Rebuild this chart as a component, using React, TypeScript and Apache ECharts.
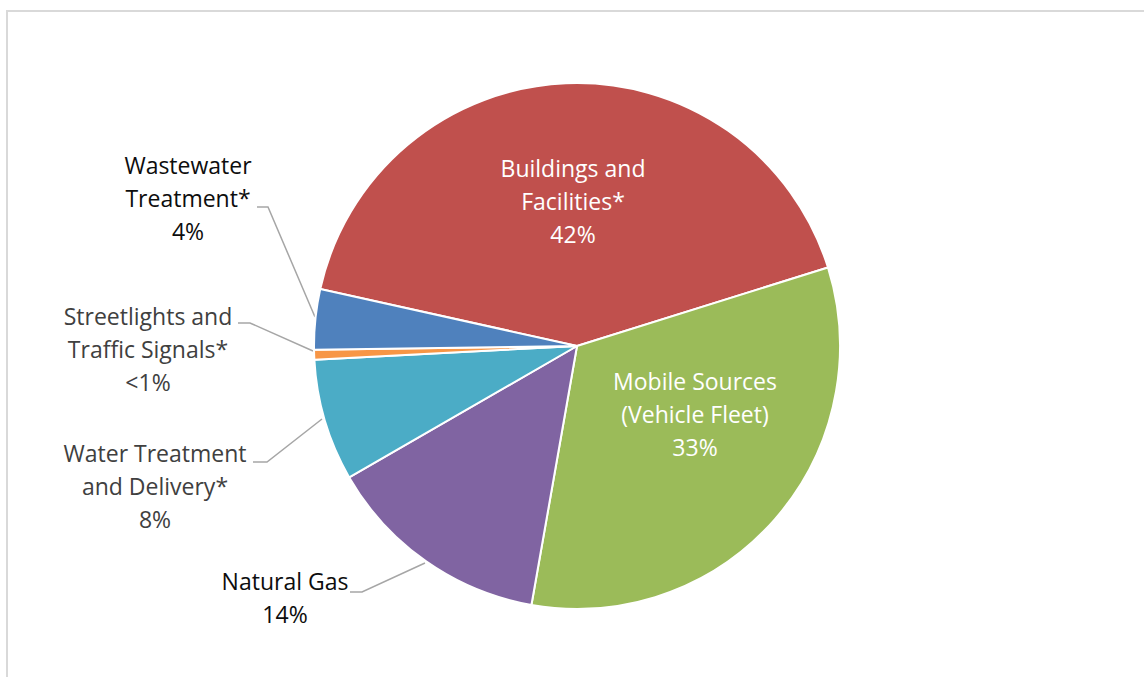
import React, { useEffect, useRef } from "react";
import * as echarts from "echarts";

const categories = [
  "Buildings and\nFacilities*",
  "Mobile Sources\n(Vehicle Fleet)",
  "Natural Gas",
  "Water Treatment\nand Delivery*",
  "Streetlights and\nTraffic Signals*",
  "Wastewater\nTreatment*",
];
const values = [41.7, 32.6, 13.9, 7.5, 0.6, 3.7];
const colors = ["#C0504D", "#9BBB59", "#8064A2", "#4BACC6", "#F79646", "#4F81BD"];
const labelColors = ["#FFFFFF", "#FFFFFF", "#0D0D0D", "#404040", "#404040", "#0D0D0D"];

// label layout (page pixels): text block centre and leader line points
const labelPos: [number, number][] = [
  [573, 201],
  [695, 414],
  [285, 597],
  [155, 486],
  [148, 349],
  [188, 198],
];
const leaderLines: ([number, number][] | null)[] = [
  null,
  null,
  [[425, 563], [362, 592], [350, 592]],
  [[322, 419], [267, 462], [253, 462]],
  [[313, 351], [250, 323], [238, 323]],
  [[315, 317], [268, 207], [257, 207]],
];

function pctText(v: number): string {
  return v < 1 ? "<1%" : Math.round(v) + "%";
}

export default function App() {
  const ref = useRef<HTMLDivElement>(null);
  useEffect(() => {
    if (!ref.current) return;
    const chart = echarts.init(ref.current, undefined, { renderer: "svg" });
    chart.setOption({
      animation: false,
      backgroundColor: "#FFFFFF",
      graphic: [
        {
          type: "rect",
          shape: { x: 7, y: 11, width: 1160, height: 700 },
          style: { fill: "none", stroke: "#D9D9D9", lineWidth: 2 },
          silent: true,
        },
      ],
      series: [
        {
          type: "pie",
          center: [577, 346],
          radius: 263,
          startAngle: 167.5,
          clockwise: true,
          avoidLabelOverlap: false,
          itemStyle: { borderColor: "#FFFFFF", borderWidth: 2 },
          label: {
            show: true,
            position: "outside",
            fontFamily: "Open Sans",
            fontSize: 23,
            lineHeight: 33,
            align: "center",
            formatter: (p: any) => p.name + "\n" + pctText(p.value),
          },
          labelLine: {
            show: true,
            lineStyle: { color: "#A6A6A6", width: 1.5 },
          },
          labelLayout: (p: any) => {
            const i = p.dataIndex;
            const res: any = {
              x: labelPos[i][0],
              y: labelPos[i][1],
              align: "center",
              verticalAlign: "middle",
            };
            if (leaderLines[i]) res.labelLinePoints = leaderLines[i];
            return res;
          },
          emphasis: { disabled: true },
          data: categories.map((c, i) => ({
            name: c,
            value: values[i],
            itemStyle: { color: colors[i] },
            label: { color: labelColors[i] },
            labelLine: { show: leaderLines[i] !== null },
          })),
        },
      ],
    });
    return () => chart.dispose();
  }, []);
  return (
    <div
      ref={ref}
      style={{ position: "fixed", left: 0, top: 0, width: 1144, height: 677 }}
    />
  );
}
